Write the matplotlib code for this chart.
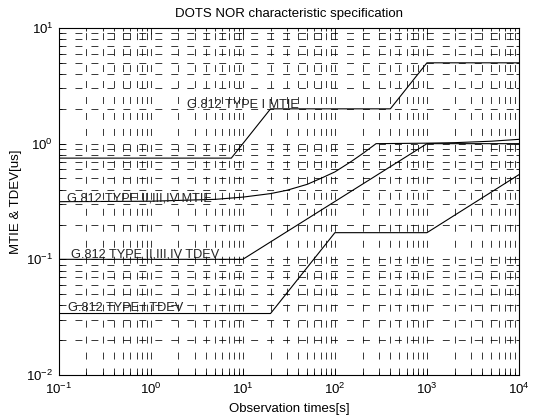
import matplotlib
matplotlib.use("Agg")
import matplotlib.pyplot as plt
from matplotlib.ticker import LogLocator, NullFormatter

plt.rcParams['font.family'] = ['Liberation Sans', 'DejaVu Sans']
plt.rcParams['mathtext.fontset'] = 'custom'
plt.rcParams['mathtext.rm'] = 'Liberation Sans'
plt.rcParams['mathtext.it'] = 'Liberation Sans'
plt.rcParams['lines.scale_dashes'] = False

# Data
tau_type1_mtie = [0.1, 7.5, 20, 400, 1000, 10000]
val_type1_mtie = [0.75, 0.75, 2.0, 2.0, 5.0, 5.0]

tau_type2_mtie = [0.1, 1, 5, 10, 20, 30, 50, 70, 100, 150, 200, 280, 1000, 2000, 5000, 10000]
val_type2_mtie = [0.315, 0.318, 0.33, 0.345, 0.37, 0.395, 0.445, 0.5, 0.57, 0.70, 0.82, 1.0, 1.01, 1.02, 1.05, 1.09]

tau_type2_tdev = [0.1, 10, 1000, 10000]
val_type2_tdev = [0.1, 0.1, 1.0, 1.0]

tau_type1_tdev = [0.1, 20, 100, 1000, 10000]
val_type1_tdev = [0.034, 0.034, 0.17, 0.17, 0.54]

labels = ["G.812 TYPE I MTIE", "G.812 TYPE II,III,IV MTIE",
          "G.812 TYPE II,III,IV TDEV", "G.812 TYPE I TDEV"]
label_pos = [(2.5, 2.05), (0.123, 0.318), (0.135, 0.104), (0.127, 0.0355)]

fig = plt.figure(figsize=(5.42, 4.18), dpi=100)
ax = fig.add_axes([0.1083, 0.1029, 0.8493, 0.8301])

for t, v in [(tau_type1_mtie, val_type1_mtie), (tau_type2_mtie, val_type2_mtie),
             (tau_type2_tdev, val_type2_tdev), (tau_type1_tdev, val_type1_tdev)]:
    ax.plot(t, v, color='black', lw=0.8, zorder=3)

ax.set_xscale('log')
ax.set_yscale('log')
ax.set_xlim(0.1, 1e4)
ax.set_ylim(1e-2, 1e1)

ax.xaxis.set_major_locator(LogLocator(base=10, numticks=10))
ax.yaxis.set_major_locator(LogLocator(base=10, numticks=10))
ax.xaxis.set_minor_locator(LogLocator(base=10, subs=range(2, 10), numticks=20))
ax.yaxis.set_minor_locator(LogLocator(base=10, subs=range(2, 10), numticks=20))
ax.xaxis.set_minor_formatter(NullFormatter())
ax.yaxis.set_minor_formatter(NullFormatter())

gridstyle = dict(color='black', lw=0.55, linestyle=(0, (5.0, 6.5)))
ax.grid(True, which='major', **gridstyle)
ax.grid(True, which='minor', **gridstyle)

ax.tick_params(which='both', direction='in', top=True, right=True, labelsize=9.5, width=0.6)
ax.tick_params(which='major', length=4)
ax.tick_params(which='minor', length=2)
ax.tick_params(axis='x', pad=5)
ax.tick_params(axis='y', pad=4)
for s in ax.spines.values():
    s.set_linewidth(0.8)

for txt, (x, y) in zip(labels, label_pos):
    ax.text(x, y, txt, fontsize=9.2, ha='left', va='baseline', color='#222222', zorder=4)

ax.set_title("DOTS NOR characteristic specification", fontsize=9.5, pad=8)
ax.set_xlabel("Observation times[s]", fontsize=9.5, labelpad=4)
ax.set_ylabel("MTIE & TDEV[us]", fontsize=9.5, labelpad=3)

fig.savefig("out.png", dpi=100)
